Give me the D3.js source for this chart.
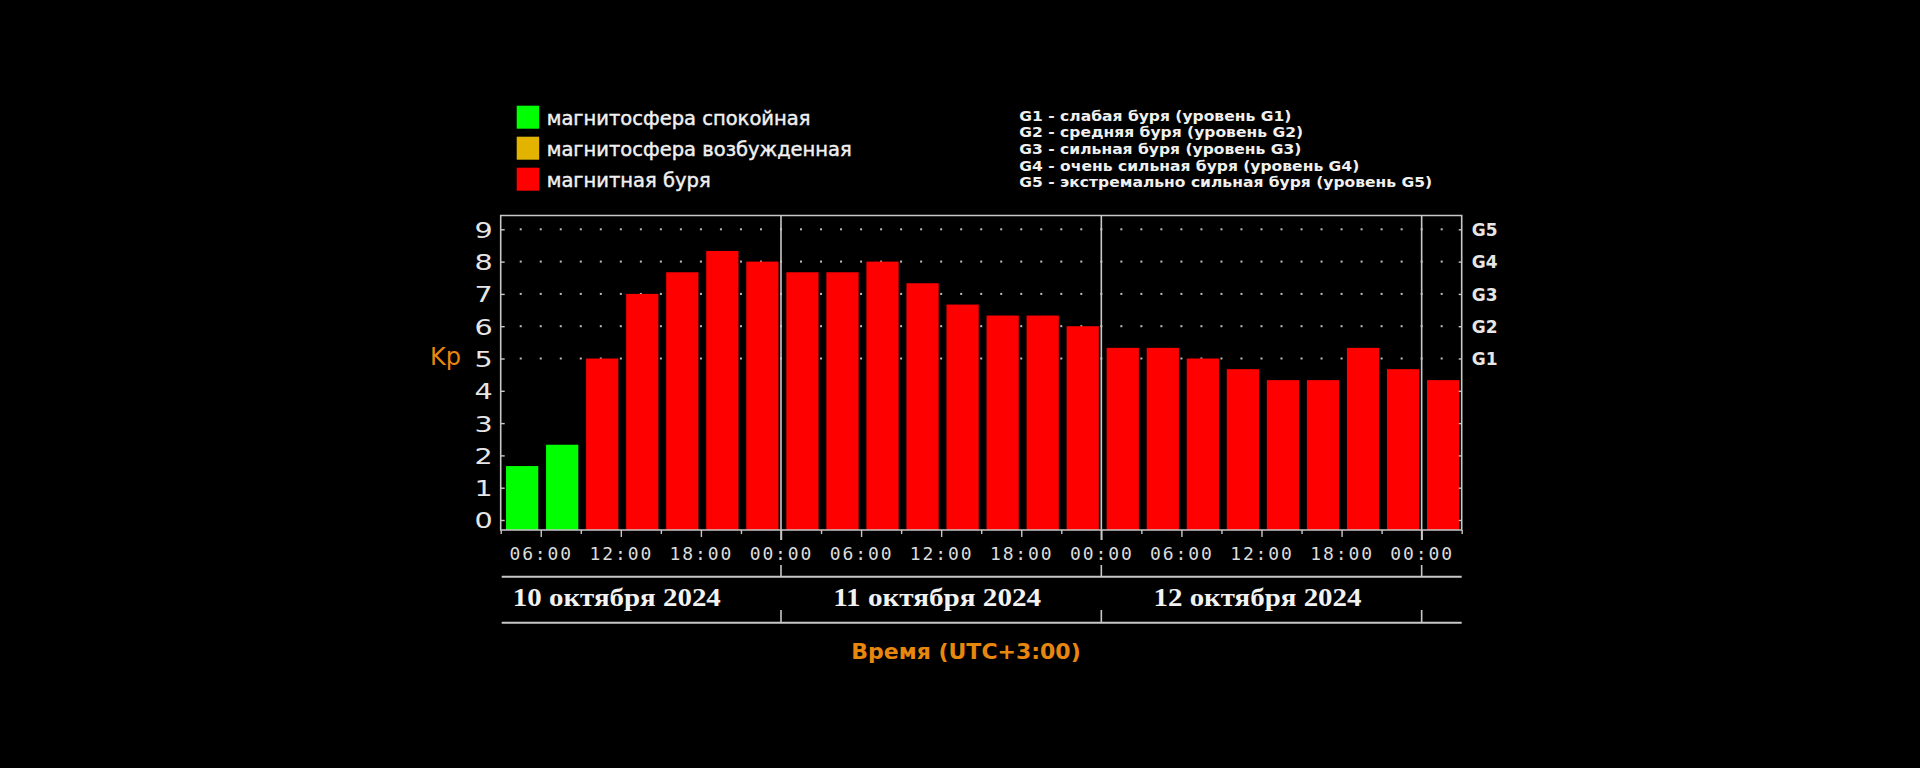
<!DOCTYPE html>
<html>
<head>
<meta charset="utf-8">
<script src="https://cdn.jsdelivr.net/npm/d3@7"></script>
<style>
  html, body { margin: 0; padding: 0; background: #000; }
  svg { display: block; }
</style>
</head>
<body>
<svg id="chart" width="1920" height="768"></svg>
<script>
// ---------------- DATA ----------------
const periodStart = Date.UTC(2024, 9, 10, 3);   // first 3-hour slot starts 10 Oct 03:00
const slotHours = 3;
const kpValues = [1.67, 2.33, 5, 7, 7.67, 8.33, 8, 7.67,
                  7.67, 8, 7.33, 6.67, 6.33, 6.33, 6, 5.33,
                  5.33, 5, 4.67, 4.33, 4.33, 5.33, 4.67, 4.33];
const xTickLabels = ["", "06:00", "", "12:00", "", "18:00", "", "00:00",
                     "", "06:00", "", "12:00", "", "18:00", "", "00:00",
                     "", "06:00", "", "12:00", "", "18:00", "", "00:00", ""];
const dayStarts = [Date.UTC(2024, 9, 10), Date.UTC(2024, 9, 11), Date.UTC(2024, 9, 12), Date.UTC(2024, 9, 13)];
const dayLabels = ["10 октября 2024", "11 октября 2024", "12 октября 2024"];
const yTicks = [0, 1, 2, 3, 4, 5, 6, 7, 8, 9];
const gLevelValues = [5, 6, 7, 8, 9];
const gLevelLabels = ["G1", "G2", "G3", "G4", "G5"];
const legendLabels = ["магнитосфера спокойная", "магнитосфера возбужденная", "магнитная буря"];
const legendColors = ["#00ff00", "#e2b400", "#ff0000"];
const gLegendLines = [
  "G1 - слабая буря (уровень G1)",
  "G2 - средняя буря (уровень G2)",
  "G3 - сильная буря (уровень G3)",
  "G4 - очень сильная буря (уровень G4)",
  "G5 - экстремально сильная буря (уровень G5)"
];
const yAxisTitle = "Kp";
const xAxisTitle = "Время (UTC+3:00)";

// ---------------- LAYOUT ----------------
const svg = d3.select("#chart");
const L = 500.7, R = 1461.7, TOP = 215.5, AXIS_Y = 530;
const HOUR = 3600 * 1000;
const nSlots = kpValues.length;
const slotTimes = kpValues.map((_, i) => periodStart + i * slotHours * HOUR);
const periodEnd = periodStart + nSlots * slotHours * HOUR;

const x = d3.scaleUtc().domain([periodStart, periodEnd]).range([L, R]);
const y = d3.scaleLinear().domain([0, 9]).range([520, 229.3]);

const frameColor = "#c8c8c8";
const orange = "#e8870e";

function kpColor(v) {
  if (v < 3.67) return legendColors[0];
  if (v < 4.33) return legendColors[1];
  return legendColors[2];
}

// dotted grid (every 1.5 h, levels 5..9)
const dotTimes = d3.range(1, nSlots * 2).map(k => periodStart + k * slotHours / 2 * HOUR);
const gDots = svg.append("g");
gLevelValues.forEach(v => {
  gDots.selectAll(null).data(dotTimes).enter().append("rect")
    .attr("x", d => x(d) - 1).attr("y", y(v) - 1)
    .attr("width", 2).attr("height", 2)
    .attr("fill", "#bdbdbd");
});

// bars
const slotW = x(periodStart + slotHours * HOUR) - x(periodStart);
svg.append("g").selectAll("rect").data(kpValues).enter().append("rect")
  .attr("x", (d, i) => x(slotTimes[i]) + slotW * 0.133)
  .attr("width", slotW * 0.805)
  .attr("y", d => y(d))
  .attr("height", d => AXIS_Y - y(d))
  .attr("fill", d => kpColor(d));

// frame
svg.append("path")
  .attr("d", `M${L},${AXIS_Y}V${TOP}H${R}V${AXIS_Y}Z`)
  .attr("fill", "none").attr("stroke", frameColor).attr("stroke-width", 1.6);

// left axis
const yAxisL = svg.append("g").attr("transform", `translate(${L},0)`)
  .call(d3.axisLeft(y).tickValues(yTicks).tickSizeInner(-4).tickSizeOuter(0).tickFormat(d3.format("d")));
yAxisL.select(".domain").remove();
yAxisL.selectAll(".tick line").attr("stroke", frameColor).attr("stroke-width", 1.4);
yAxisL.selectAll(".tick text")
  .attr("x", -8 / 1.3).attr("dy", "0.36em")
  .attr("transform", "scale(1.3,1)")
  .attr("fill", "#e6e6e6")
  .style("font-family", "'DejaVu Sans', sans-serif").style("font-size", "22px");

// right axis
const yAxisR = svg.append("g").attr("transform", `translate(${R},0)`)
  .call(d3.axisRight(y).tickValues(yTicks).tickSizeInner(-3).tickSizeOuter(0)
    .tickFormat(d => { const i = gLevelValues.indexOf(d); return i >= 0 ? gLevelLabels[i] : ""; }));
yAxisR.select(".domain").remove();
yAxisR.selectAll(".tick line").attr("stroke", frameColor).attr("stroke-width", 1.4);
yAxisR.selectAll(".tick text")
  .attr("x", 10).attr("dy", "0.36em")
  .attr("fill", "#e6e6e6")
  .style("font-family", "'DejaVu Sans', sans-serif").style("font-weight", "bold").style("font-size", "17px");

// bottom axis
const boundaries = d3.range(nSlots + 1).map(i => periodStart + i * slotHours * HOUR);
const xAxis = svg.append("g").attr("transform", `translate(0,${AXIS_Y})`)
  .call(d3.axisBottom(x).tickValues(boundaries).tickSizeOuter(0)
    .tickFormat((d, i) => xTickLabels[i]));
xAxis.select(".domain").remove();
xAxis.selectAll(".tick line")
  .attr("stroke", frameColor).attr("stroke-width", 1.4)
  .attr("y2", (d, i) => dayStarts.includes(+d) ? 10 : (xTickLabels[i] ? 7 : 4));
xAxis.selectAll(".tick text")
  .attr("y", 30).attr("dy", 0)
  .attr("fill", "#dcdcdc")
  .style("font-family", "'DejaVu Sans Mono', monospace").style("font-size", "18px")
  .style("letter-spacing", "1.9px");

// date band
const LINE1 = 576.7, LINE2 = 622.7;
[LINE1, LINE2].forEach(yy => {
  svg.append("line").attr("x1", L + 1).attr("x2", R).attr("y1", yy).attr("y2", yy)
    .attr("stroke", frameColor).attr("stroke-width", 2);
});
const innerDays = dayStarts.filter(d => d > periodStart && d < periodEnd);
const gDiv = svg.append("g");
innerDays.forEach(d => {
  const xx = x(d);
  gDiv.append("line").attr("x1", xx).attr("x2", xx).attr("y1", TOP).attr("y2", AXIS_Y + 10)
    .attr("stroke", frameColor).attr("stroke-width", 1.6);
  gDiv.append("line").attr("x1", xx).attr("x2", xx).attr("y1", 565).attr("y2", LINE1)
    .attr("stroke", frameColor).attr("stroke-width", 1.6);
  gDiv.append("line").attr("x1", xx).attr("x2", xx).attr("y1", 610).attr("y2", LINE2)
    .attr("stroke", frameColor).attr("stroke-width", 1.6);
});
svg.append("g").selectAll("text").data(dayLabels).enter().append("text")
  .attr("x", (d, i) => (x(dayStarts[i]) + x(dayStarts[i + 1])) / 2 - 4)
  .attr("y", 606)
  .attr("text-anchor", "middle")
  .attr("textLength", 208).attr("lengthAdjust", "spacingAndGlyphs")
  .attr("fill", "#f2f2f2")
  .style("font-family", "'Liberation Serif', serif").style("font-weight", "bold").style("font-size", "25px")
  .text(d => d);

// axis titles
svg.append("text").attr("x", 430).attr("y", 365)
  .attr("fill", orange)
  .style("font-family", "'DejaVu Sans', sans-serif").style("font-size", "24px")
  .text(yAxisTitle);
svg.append("text").attr("x", 966).attr("y", 659).attr("text-anchor", "middle")
  .attr("fill", orange)
  .style("font-family", "'DejaVu Sans', sans-serif").style("font-weight", "bold").style("font-size", "22px")
  .text(xAxisTitle);

// legend (colours)
const lg = svg.append("g").attr("transform", "translate(516.7,105.7)");
lg.selectAll("rect").data(legendLabels).enter().append("rect")
  .attr("x", 0).attr("y", (d, i) => i * 31).attr("width", 22.5).attr("height", 23)
  .attr("fill", (d, i) => legendColors[i]);
lg.selectAll("text").data(legendLabels).enter().append("text")
  .attr("x", 30 / 0.975).attr("y", (d, i) => i * 31 + 19)
  .attr("transform", "scale(0.975,1)")
  .attr("fill", "#f0f0f0").attr("stroke", "#f0f0f0").attr("stroke-width", 0.45)
  .style("font-family", "'DejaVu Sans', sans-serif").style("font-size", "20px")
  .text(d => d);

// legend (G levels)
svg.append("g").attr("transform", "translate(1019.3,0) scale(1.11,1)")
  .selectAll("text").data(gLegendLines).enter().append("text")
  .attr("x", 0).attr("y", (d, i) => 120.7 + i * 16.65)
  .attr("fill", "#f0f0f0")
  .style("font-family", "'DejaVu Sans', sans-serif").style("font-weight", "bold").style("font-size", "14px")
  .text(d => d);
</script>
</body>
</html>
